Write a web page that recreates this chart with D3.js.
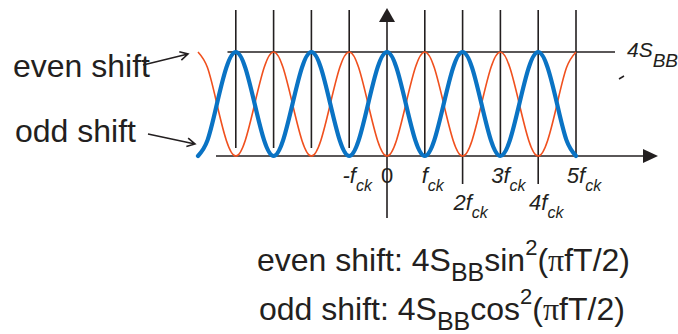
<!DOCTYPE html>
<html>
<head>
<meta charset="utf-8">
<script src="https://cdn.jsdelivr.net/npm/d3@7"></script>
<style>html,body{margin:0;background:#fff;}</style>
</head>
<body>
<script>
// frequency in units of f_ck
const freq = [-5, -4.75, -4.5, -4.25, -4, -3.75, -3.5, -3.25, -3, -2.75, -2.5, -2.25,
  -2, -1.75, -1.5, -1.25, -1, -0.75, -0.5, -0.25, 0, 0.25, 0.5, 0.75, 1, 1.25, 1.5, 1.75,
  2, 2.25, 2.5, 2.75, 3, 3.25, 3.5, 3.75, 4, 4.25, 4.5, 4.75, 5];
// spectra relative to 4S_BB
const evenShift = [1, 0.85, 0.5, 0.15, 0, 0.15, 0.5, 0.85, 1, 0.85, 0.5, 0.15,
  0, 0.15, 0.5, 0.85, 1, 0.85, 0.5, 0.15, 0, 0.15, 0.5, 0.85, 1, 0.85, 0.5, 0.15,
  0, 0.15, 0.5, 0.85, 1, 0.85, 0.5, 0.15, 0, 0.15, 0.5, 0.85, 1];
const oddShift = [0, 0.15, 0.5, 0.85, 1, 0.85, 0.5, 0.15, 0, 0.15, 0.5, 0.85,
  1, 0.85, 0.5, 0.15, 0, 0.15, 0.5, 0.85, 1, 0.85, 0.5, 0.15, 0, 0.15, 0.5, 0.85,
  1, 0.85, 0.5, 0.15, 0, 0.15, 0.5, 0.85, 1, 0.85, 0.5, 0.15, 0];

const gridTicks = [-4, -3, -2, -1, 1, 2, 3, 4, 5];
const labelTicks = [-1, 0, 1, 2, 3, 4, 5];
const labelMain = ["-f", "0", "f", "2f", "3f", "4f", "5f"];
const labelSub = ["ck", "", "ck", "ck", "ck", "ck", "ck"];
const seriesNames = ["even shift", "odd shift"];
const formulaFunc = ["sin", "cos"];

const width = 678, height = 334;
const ink = "#231f20";
const sans = "'Liberation Sans', Arial, sans-serif";

const x = d3.scaleLinear().domain([-5, 5]).range([198, 576]);
const y = d3.scaleLinear().domain([0, 1]).range([156, 52]);

const svg = d3.select("body").append("svg")
  .attr("width", width)
  .attr("height", height)
  .style("font-family", sans)
  .attr("fill", ink);

// vertical lines at multiples of f_ck
svg.append("g")
  .attr("stroke", ink)
  .attr("stroke-width", 1.6)
  .selectAll("line")
  .data(gridTicks)
  .join("line")
  .attr("x1", (d) => x(d))
  .attr("x2", (d) => x(d))
  .attr("y1", 10)
  .attr("y2", (d) => (d < 0 ? 148 : d % 2 === 0 ? 184 : y(0)));

// 4S_BB level line
svg.append("line")
  .attr("x1", x(-4.22)).attr("x2", 615)
  .attr("y1", y(1)).attr("y2", y(1))
  .attr("stroke", ink).attr("stroke-width", 1.6);

// x axis with arrow
svg.append("line")
  .attr("x1", 216).attr("x2", 646)
  .attr("y1", y(0)).attr("y2", y(0))
  .attr("stroke", ink).attr("stroke-width", 1.6);
svg.append("path")
  .attr("d", `M658,${y(0)}L643,${y(0) - 7}L643,${y(0) + 7}Z`)
  .attr("fill", ink);

// y axis with arrow
svg.append("line")
  .attr("x1", x(0)).attr("x2", x(0))
  .attr("y1", 218).attr("y2", 20)
  .attr("stroke", ink).attr("stroke-width", 1.6);
svg.append("path")
  .attr("d", `M${x(0)},8L${x(0) - 8},22L${x(0) + 8},22Z`)
  .attr("fill", ink);

// curves
const line = d3.line()
  .x((d, i) => x(freq[i]))
  .y((d) => y(d))
  .curve(d3.curveNatural);

svg.append("path")
  .datum(evenShift)
  .attr("d", line)
  .attr("fill", "none")
  .attr("stroke", "#f0501e")
  .attr("stroke-width", 1.6);

svg.append("path")
  .datum(oddShift)
  .attr("d", line)
  .attr("fill", "none")
  .attr("stroke", "#0a73c4")
  .attr("stroke-width", 4.2)
  .attr("stroke-linecap", "round");

// tick labels
const lab = svg.append("g")
  .attr("font-style", "italic")
  .attr("text-anchor", "middle")
  .selectAll("text")
  .data(labelTicks)
  .join("text")
  .attr("x", (d) => x(d) + (d === 0 ? 0 : 8))
  .attr("y", (d) => (d === 2 || d === 4 ? 210 : 183))
  .attr("font-size", 22);
lab.append("tspan").text((d, i) => labelMain[i]).attr("font-style", (d) => (d === 0 ? "normal" : null));
lab.append("tspan").attr("font-size", 16).attr("dy", 8).text((d, i) => labelSub[i]);

// 4S_BB label
const lvl = svg.append("text")
  .attr("x", 627).attr("y", 57)
  .attr("font-style", "italic")
  .attr("font-size", 21);
lvl.append("tspan").text("4S");
lvl.append("tspan").attr("font-size", 19).attr("dy", 10).text("BB");
svg.append("line")
  .attr("x1", 619).attr("y1", 79).attr("x2", 624).attr("y2", 76)
  .attr("stroke", ink).attr("stroke-width", 1.5);

// series labels with arrows
const arrows = [
  { from: [143, 65], to: [188, 54] },
  { from: [148, 134], to: [195, 144] },
];
svg.append("g")
  .selectAll("text")
  .data(seriesNames)
  .join("text")
  .attr("x", (d, i) => (i === 0 ? 13 : 15))
  .attr("y", (d, i) => (i === 0 ? 77 : 142))
  .attr("font-size", 32)
  .text((d) => d);

svg.append("g")
  .attr("stroke", ink)
  .attr("stroke-width", 1.6)
  .attr("fill", "none")
  .selectAll("path")
  .data(arrows)
  .join("path")
  .attr("d", (a) => {
    const [x0, y0] = a.from, [x1, y1] = a.to;
    const ang = Math.atan2(y1 - y0, x1 - x0), L = 9, w = 0.5;
    const p1 = [x1 - L * Math.cos(ang - w), y1 - L * Math.sin(ang - w)];
    const p2 = [x1 - L * Math.cos(ang + w), y1 - L * Math.sin(ang + w)];
    return `M${x0},${y0}L${x1},${y1}M${p1}L${x1},${y1}L${p2}`;
  });

// formulas
const fm = svg.append("g")
  .selectAll("text")
  .data(seriesNames)
  .join("text")
  .attr("x", (d, i) => (i === 0 ? 257 : 259))
  .attr("y", (d, i) => (i === 0 ? 271 : 320))
  .attr("font-size", 32);
fm.append("tspan").text((d) => d + ": 4S");
fm.append("tspan").attr("font-size", 25).attr("dy", 10).text("BB");
fm.append("tspan").attr("dy", -10).text((d, i) => formulaFunc[i]);
fm.append("tspan").attr("font-size", 22).attr("dy", -16).text("2");
fm.append("tspan").attr("dy", 16).text("(");
fm.append("tspan").attr("font-family", "'Liberation Serif', serif").text("\u03c0");
fm.append("tspan").text("fT/2)");
</script>
</body>
</html>
